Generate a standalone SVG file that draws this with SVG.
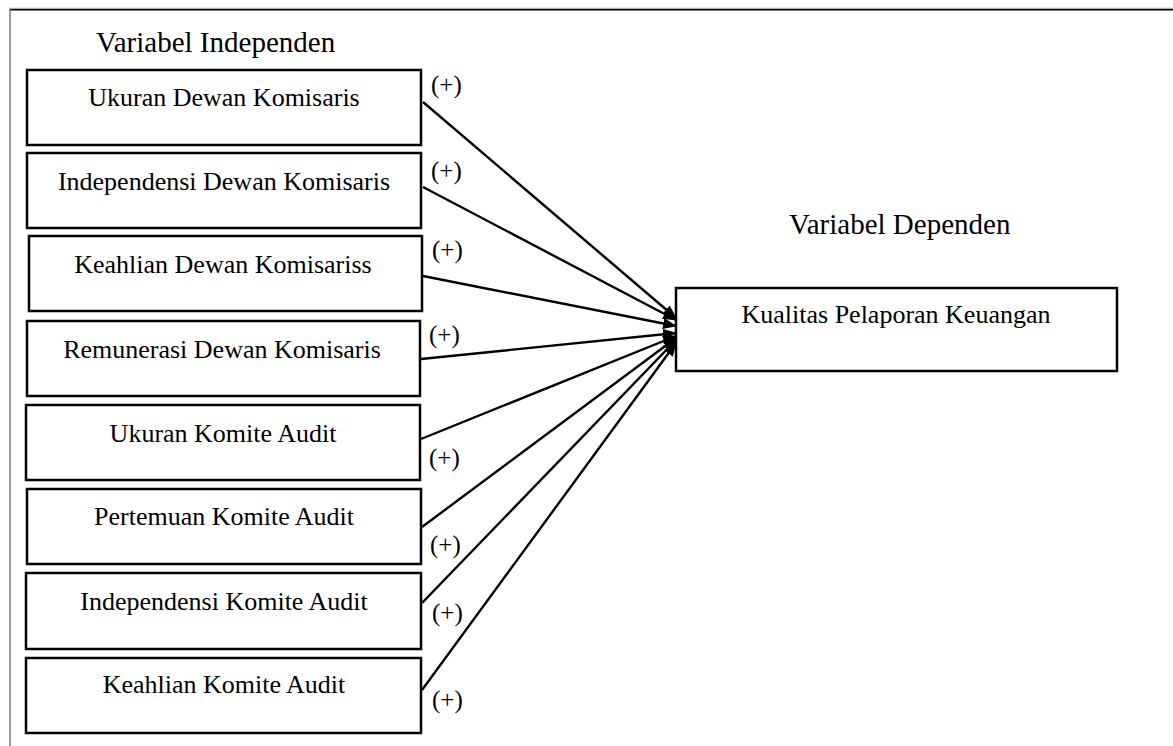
<svg xmlns="http://www.w3.org/2000/svg" width="1173" height="746" viewBox="0 0 1173 746">
<style>
.box{fill:#fff;stroke:#000;stroke-width:2.5}
.lbl{font-family:"Liberation Serif","Times New Roman",serif;font-size:26px;fill:#000;text-anchor:middle}
.hd{font-family:"Liberation Serif","Times New Roman",serif;font-size:29px;fill:#000}
.pl{font-family:"Liberation Serif","Times New Roman",serif;font-size:25px;fill:#000}
.con{stroke:#000;stroke-width:2.4;fill:none;marker-end:url(#ah)}
</style>
<defs>
<marker id="ah" viewBox="0 0 14 11" refX="13" refY="5.5" markerWidth="14" markerHeight="11" markerUnits="userSpaceOnUse" orient="auto">
<path d="M0,0 L14,5.5 L0,11 Z" fill="#000"/>
</marker>
</defs>
<rect width="1173" height="746" fill="#fff"/>
<g id="frame">
<line x1="9" y1="8.3" x2="1173" y2="8.3" stroke="#a0a0a0" stroke-width="1"/>
<line x1="10" y1="9.7" x2="1173" y2="9.7" stroke="#000" stroke-width="1.5"/>
<line x1="10" y1="9" x2="10" y2="746" stroke="#666" stroke-width="1.3"/>
</g>
<text class="hd" x="96" y="52">Variabel Independen</text>
<text class="hd" x="789" y="234">Variabel Dependen</text>
<g id="connectors">
<line class="con" x1="423" y1="102" x2="676" y2="318"/>
<line class="con" x1="423" y1="187" x2="676" y2="320"/>
<line class="con" x1="423" y1="276" x2="676" y2="326"/>
<line class="con" x1="421" y1="359" x2="676" y2="333"/>
<line class="con" x1="421" y1="439" x2="676" y2="336"/>
<line class="con" x1="422" y1="527" x2="676" y2="338"/>
<line class="con" x1="422" y1="603" x2="676" y2="340"/>
<line class="con" x1="422" y1="690" x2="676" y2="343"/>
</g>
<g id="signs">
<text class="pl" x="431" y="93">(+)</text>
<text class="pl" x="431" y="179">(+)</text>
<text class="pl" x="432" y="258">(+)</text>
<text class="pl" x="429" y="343">(+)</text>
<text class="pl" x="429" y="466">(+)</text>
<text class="pl" x="430" y="553">(+)</text>
<text class="pl" x="432" y="621">(+)</text>
<text class="pl" x="432" y="708">(+)</text>
</g>
<g id="n1"><rect class="box" x="27" y="70" width="394" height="75"/><text class="lbl" x="224" y="106">Ukuran Dewan Komisaris</text></g>
<g id="n2"><rect class="box" x="27" y="153" width="394" height="75"/><text class="lbl" x="224" y="190">Independensi Dewan Komisaris</text></g>
<g id="n3"><rect class="box" x="29" y="236" width="393" height="75"/><text class="lbl" x="223" y="273">Keahlian Dewan Komisariss</text></g>
<g id="n4"><rect class="box" x="27" y="321" width="393" height="75"/><text class="lbl" x="222" y="358">Remunerasi Dewan Komisaris</text></g>
<g id="n5"><rect class="box" x="26" y="405" width="394" height="75"/><text class="lbl" x="223" y="442">Ukuran Komite Audit</text></g>
<g id="n6"><rect class="box" x="27" y="489" width="394" height="75"/><text class="lbl" x="224" y="525">Pertemuan Komite Audit</text></g>
<g id="n7"><rect class="box" x="26" y="573" width="395" height="76"/><text class="lbl" x="224" y="610">Independensi Komite Audit</text></g>
<g id="n8"><rect class="box" x="26" y="658" width="395" height="75"/><text class="lbl" x="224" y="693">Keahlian Komite Audit</text></g>
<g id="target"><rect class="box" x="676" y="288" width="441" height="83"/><text class="lbl" x="896" y="323">Kualitas Pelaporan Keuangan</text></g>
</svg>
